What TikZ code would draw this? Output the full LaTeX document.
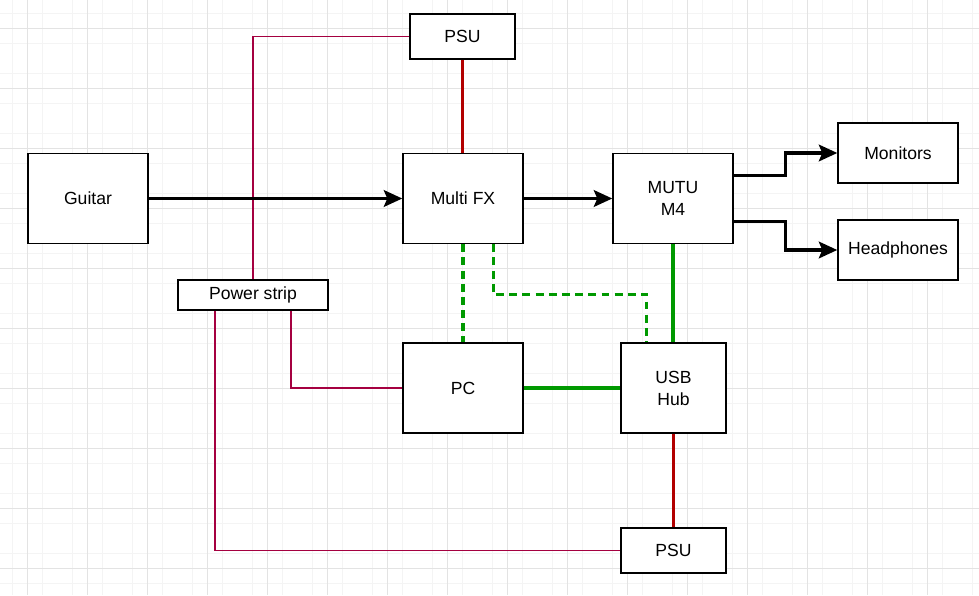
\documentclass[tikz,border=0pt]{standalone}
\usepackage{fontspec}
\setmainfont{Liberation Sans}
\usepackage{xcolor}
\usetikzlibrary{positioning}
\usetikzlibrary{calc}
\usetikzlibrary{arrows.meta}

\definecolor{pwrred}{HTML}{B20000}
\definecolor{mains}{HTML}{A50040}
\definecolor{usbgreen}{HTML}{009900}
\definecolor{gridmajor}{HTML}{E3E3E3}
\definecolor{gridminor}{HTML}{F4F4F4}

\tikzset{
  box/.style={draw, line width=0.85pt, fill=white, inner sep=0pt, align=center,
    minimum width=2.4cm, minimum height=1.8cm, font=\fontsize{10}{12.5}\selectfont},
  sig/.style={line width=1.8pt, -{Stealth[length=10.5pt,width=9.5pt,inset=2pt]}},
  dc/.style={pwrred, line width=1.8pt},
  ac/.style={mains, line width=0.85pt},
  usb/.style={usbgreen, line width=1.8pt},
  usbdash/.style={usb, dash pattern=on 4.5pt off 3pt},
}

\begin{document}
\begin{tikzpicture}[x=0.02cm, y=-0.02cm]
   \useasboundingbox (0,0) rectangle (979,595);
   % grid
   \foreach \gx in {12,42,...,972} \draw[gridminor, line width=0.5pt] (\gx,0) -- (\gx,595);
   \foreach \gy in {13,43,...,593} \draw[gridminor, line width=0.5pt] (0,\gy) -- (979,\gy);
   \foreach \gx in {27,87,...,927} \draw[gridmajor, line width=0.5pt] (\gx,0) -- (\gx,595);
   \foreach \gy in {28,88,...,568} \draw[gridmajor, line width=0.5pt] (0,\gy) -- (979,\gy);
   %
   \node[box] (guitar) at (88,198.5) {Guitar};
   \node[box] (mfx) at (463,198.5) {Multi FX};
   \node[box] (mutu) at (673,198.5) {MUTU\\M4};
   \node[box, minimum height=1.2cm] (mon) at (898,153) {Monitors};
   \node[box, minimum height=1.2cm] (phones) at (898,250) {Headphones};
   \node[box, minimum width=2.1cm, minimum height=0.9cm] (psutop) at (462.5,36.5) {PSU};
   \node[box, minimum width=3cm, minimum height=0.6cm] (strip) at (253,295) {Power strip};
   \node[box] (pc) at (463,388) {PC};
   \node[box, minimum width=2.1cm] (hub) at (673.5,388) {USB\\Hub};
   \node[box, minimum width=2.1cm, minimum height=0.9cm] (psubot) at (673.5,550.5) {PSU};
   %
   \coordinate (mutuhi) at ($(mutu.north east)!0.25!(mutu.south east)$);
   \coordinate (mutulo) at ($(mutu.north east)!0.75!(mutu.south east)$);
   \coordinate (stripl) at ($(strip.south west)!0.25!(strip.south east)$);
   \coordinate (stripr) at ($(strip.south west)!0.75!(strip.south east)$);
   \coordinate (mfxr) at ($(mfx.south west)!0.75!(mfx.south east)$);
   \coordinate (hubl) at ($(hub.north west)!0.25!(hub.north east)$);
   %
   \draw[ac] (psutop.west) -| (strip.north);
   \draw[ac] (stripr) |- (pc.west);
   \draw[ac] (stripl) |- (psubot.west);
   \draw[dc] (psutop.south) -- (psutop.south |- mfx.north);
   \draw[dc] (hub.south) -- (hub.south |- psubot.north);
   %
   \draw[sig] (guitar) -- (mfx);
   \draw[sig] (mfx) -- (mutu);
   \draw[sig] (mutuhi) -- ++(52,0) |- (mon.west);
   \draw[sig] (mutulo) -- ++(52,0) |- (phones.west);
   %
   \draw[usbdash] (mfx.south) -- (mfx.south |- pc.north);
   \draw[usbdash] (mfxr) -- ++(0,50) -| (hubl);
   \draw[usb] (mutu.south) -- (mutu.south |- hub.north);
   \draw[usb] (pc.east) -- (hub.west);
   %
  \end{tikzpicture}
\end{document}
